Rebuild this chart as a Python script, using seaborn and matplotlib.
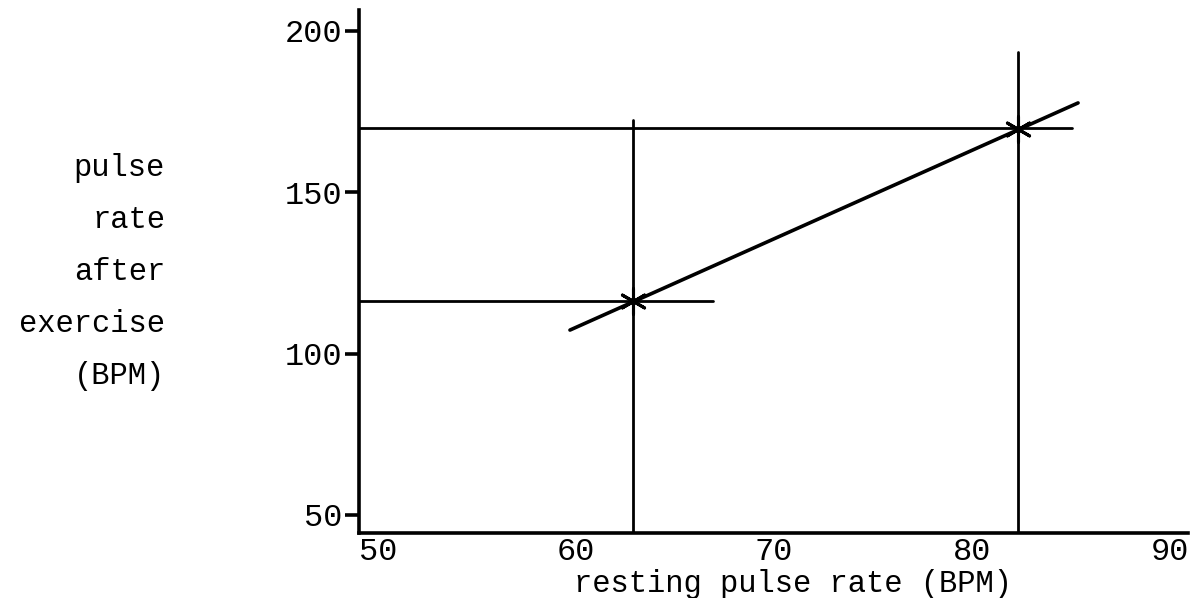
import pandas as pd
import matplotlib
matplotlib.use("Agg")
import matplotlib.pyplot as plt
import seaborn as sns

# Data
point_x = [62.9, 82.3]
point_y = [116.3, 169.6]

fit_x = [59.7, 85.35]
fit_y = [107.3, 177.7]

guide_h_y = [116.3, 169.9]
guide_h_end = [66.9, 85.05]
guide_v_x = [62.9, 82.3]
guide_v_top = [172.4, 193.5]

x_ticks = [50, 60, 70, 80, 90]
y_ticks = [50, 100, 150, 200]
x_lim = (49.05, 90.9)
y_lim = (44.4, 206.5)

sns.set_style("white")
plt.rcParams["font.family"] = ["Liberation Mono", "DejaVu Sans Mono"]
plt.rcParams["text.color"] = "black"

fig = plt.figure(figsize=(11.94, 5.98), dpi=100)
ax = fig.add_axes([359 / 1194, 65 / 598, 829 / 1194, 523 / 598])

# guide segments in long form
rows = []
for i, (y, xe) in enumerate(zip(guide_h_y, guide_h_end)):
    rows.append({"seg": f"h{i}", "x": x_lim[0], "y": y})
    rows.append({"seg": f"h{i}", "x": xe, "y": y})
for i, (x, yt) in enumerate(zip(guide_v_x, guide_v_top)):
    rows.append({"seg": f"v{i}", "x": x, "y": y_lim[0]})
    rows.append({"seg": f"v{i}", "x": x, "y": yt})
guides = pd.DataFrame(rows)

sns.lineplot(data=guides, x="x", y="y", units="seg", estimator=None,
             sort=False, color="black", linewidth=2.0, ax=ax)

fit = pd.DataFrame({"x": fit_x, "y": fit_y})
sns.lineplot(data=fit, x="x", y="y", color="black", linewidth=2.6, ax=ax)

pts = pd.DataFrame({"x": point_x, "y": point_y})
sns.scatterplot(data=pts, x="x", y="y", marker=(6, 2, 0), s=340,
                color="black", linewidth=2.2, ax=ax, zorder=5)

ax.set_xlim(*x_lim)
ax.set_ylim(*y_lim)
ax.set_xticks(x_ticks)
ax.set_yticks(y_ticks)
ax.set_xlabel("")
ax.set_ylabel("")

for side in ["top", "right"]:
    ax.spines[side].set_visible(False)
for side in ["left", "bottom"]:
    ax.spines[side].set_color("black")
    ax.spines[side].set_linewidth(2.6)

ax.tick_params(axis="y", direction="out", length=10, width=2.6,
               pad=2, labelsize=23, colors="black", left=True)
ax.tick_params(axis="x", length=0, pad=3, labelsize=23, colors="black")

fig.text(793 / 1194, 1 - 584 / 598, "resting pulse rate (BPM)",
         ha="center", va="center", fontsize=22, color="black")
fig.text(165 / 1194, 1 - 272 / 598, "pulse\nrate\nafter\nexercise\n(BPM)",
         ha="right", va="center", multialignment="right",
         fontsize=22, linespacing=1.96, color="black")

fig.savefig("out.png", dpi=100)
